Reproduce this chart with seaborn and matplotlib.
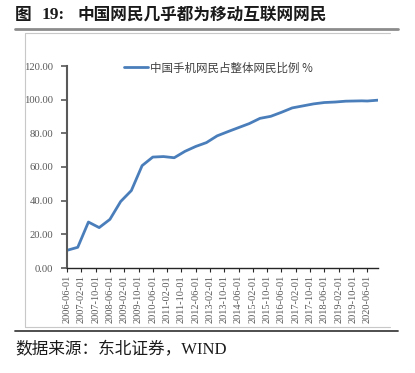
import matplotlib
matplotlib.use("Agg")
import matplotlib.pyplot as plt
from matplotlib.lines import Line2D
import seaborn as sns
import pandas as pd

dates = ["2006-06-01", "2006-12-01", "2007-06-01", "2007-12-01", "2008-06-01",
         "2008-12-01", "2009-06-01", "2009-12-01", "2010-06-01", "2010-12-01",
         "2011-06-01", "2011-12-01", "2012-06-01", "2012-12-01", "2013-06-01",
         "2013-12-01", "2014-06-01", "2014-12-01", "2015-06-01", "2015-12-01",
         "2016-06-01", "2016-12-01", "2017-06-01", "2017-12-01", "2018-06-01",
         "2018-12-01", "2019-06-01", "2020-03-01", "2020-06-01", "2020-12-01"]
values = [10.5, 12.3, 27.3, 24.0, 28.9, 39.5, 46.0, 60.8, 65.9, 66.2,
          65.5, 69.3, 72.2, 74.5, 78.5, 81.0, 83.4, 85.8, 88.9, 90.1,
          92.5, 95.1, 96.3, 97.5, 98.3, 98.6, 99.1, 99.3, 99.2, 99.7]
series_name = "中国手机网民占整体网民比例 %"
title_prefix = "图"
title_number = "19:"
title_body = "中国网民几乎都为移动互联网网民"
source = "数据来源：东北证券，WIND"
yticks = [0, 20, 40, 60, 80, 100, 120]

df = pd.DataFrame({"date": pd.to_datetime(dates), "value": values, "series": series_name})

sns.set_theme(style="white")
plt.rcParams['font.family'] = ['Liberation Serif', 'Noto Sans CJK SC']
plt.rcParams['axes.unicode_minus'] = False

W, H = 415, 373
fig = plt.figure(figsize=(W / 100, H / 100), dpi=100)
ax = fig.add_axes([67 / W, 1 - 268 / H, (378 - 67) / W, (268 - 66) / H])

sns.lineplot(data=df, x="date", y="value", hue="series", palette=["#4a7ebb"],
             linewidth=2.0, ax=ax)

ax.set_ylim(0, 120)
ax.set_yticks(yticks)
ax.set_yticklabels([f"{v:.2f}" for v in yticks])
ax.set_xlim(pd.Timestamp(dates[0]), pd.Timestamp(dates[-1]))
tick_dates = pd.date_range("2006-06-01", "2020-06-01", freq="8MS")
ax.set_xticks(tick_dates)
ax.set_xticklabels([d.strftime("%Y-%m-%d") for d in tick_dates], rotation=90)
ax.set_xlabel("")
ax.set_ylabel("")

for s in ["top", "right"]:
    ax.spines[s].set_visible(False)
ax.spines["left"].set_color("#595959")
ax.spines["left"].set_linewidth(1.5)
ax.spines["bottom"].set_color("#262626")
ax.spines["bottom"].set_linewidth(1.0)
ax.tick_params(axis="y", which="major", left=True, length=4, width=1.2, color="#595959",
               labelsize=7.7, labelcolor="#595959", pad=6)
ax.tick_params(axis="x", which="major", bottom=True, length=3, width=0.8, color="#262626",
               labelsize=7.5, labelcolor="#595959", pad=2)

leg = ax.legend(loc="upper left", bbox_to_anchor=(0.17, 1.045), frameon=False,
                handlelength=2.0, handletextpad=0.25, borderaxespad=0,
                prop={"family": ["Noto Sans CJK SC"], "size": 8.3})
for t in leg.get_texts():
    t.set_color("#404040")

def hline(y, x0, x1, color, lw):
    fig.add_artist(Line2D([x0 / W, x1 / W], [1 - y / H, 1 - y / H], color=color, lw=lw,
                          transform=fig.transFigure))

def vline(x, y0, y1, color, lw):
    fig.add_artist(Line2D([x / W, x / W], [1 - y0 / H, 1 - y1 / H], color=color, lw=lw,
                          transform=fig.transFigure))

hline(29, 15, 398, "#8c8c8c", 2.0)
hline(32.5, 24.5, 390, "#c8c8c8", 0.8)
vline(24.5, 32.5, 327, "#c8c8c8", 0.8)
hline(327, 24.5, 390, "#c8c8c8", 0.8)
hline(331, 15, 398, "#404040", 1.3)

tfam = ["Liberation Serif", "Noto Sans CJK SC"]
fig.text(15 / W, 1 - 15 / H, title_prefix, fontsize=12, fontweight="bold", va="center",
         ha="left", family=["Noto Sans CJK SC"], color="#1a1a1a")
fig.text(42 / W, 1 - 15 / H, title_number, fontsize=12.5, fontweight="bold", va="center",
         ha="left", family=tfam, color="#1a1a1a")
fig.text(77 / W, 1 - 15 / H, title_body, fontsize=12, fontweight="bold", va="center",
         ha="left", family=["Noto Sans CJK SC"], color="#1a1a1a")
fig.text(15 / W, 1 - 350 / H, source, fontsize=12, va="center", ha="left",
         family=tfam, color="#1a1a1a")

fig.savefig("out.png", dpi=100)
